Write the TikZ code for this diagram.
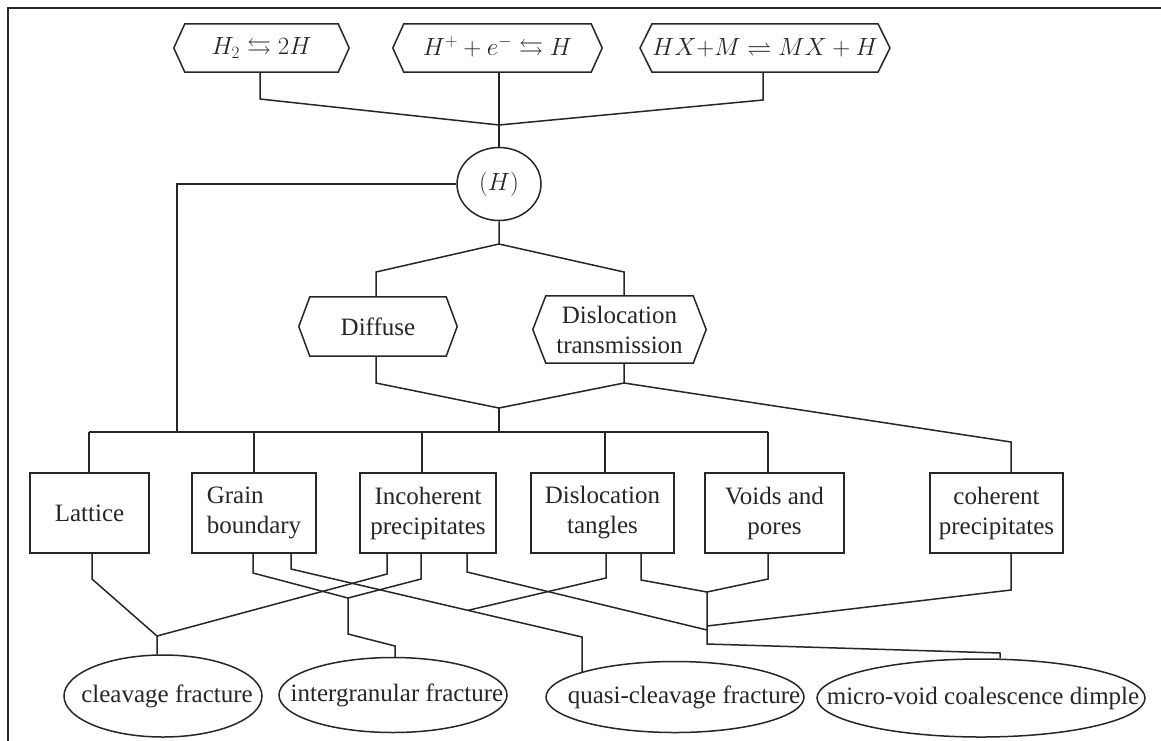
\documentclass[tikz,border=0pt]{standalone}
\usepackage{amssymb}
\usepackage{fontspec}
\setmainfont{Liberation Serif}
\usetikzlibrary{calc,shapes.geometric}

% hexagonal outline around a (borderless) rectangular node
\newcommand\hexframe[2]{%
  \draw[line] (#1.north west) -- (#1.north east) -- ($(#1.east)+(#2,0)$)
    -- (#1.south east) -- (#1.south west) -- ($(#1.west)-(#2,0)$) -- cycle;}

\begin{document}
\begin{tikzpicture}[x=1pt,y=-1pt,
  line/.style={draw=black!85, line width=1.5pt, line join=miter},
  txt/.style={font=\fontsize{25}{30}\selectfont, text=black!85},
  mth/.style={font=\fontsize{24}{28}\selectfont, text=black!85},
  hexbox/.style={draw=none, inner sep=0pt, minimum height=48pt},
  box/.style={draw=black!85, line width=1.5pt, rectangle, inner sep=0pt,
              minimum height=80pt, txt, align=center},
  oval/.style={draw=black!85, line width=1.5pt, ellipse, inner sep=0pt},
]

\useasboundingbox (0,0) rectangle (1161,740);
\fill[white] (0,0) rectangle (1161,740);
\draw[draw=black!85, line width=2pt] (8,760) -- (8,8) -- (1180,8);

% reactions producing hydrogen
\node[hexbox, mth, minimum width=153pt] (h1) at (261.5,48) {$H_2 \leftrightarrows 2H$};
\node[hexbox, mth, minimum width=187pt] (h2) at (497.5,48) {$H^+ + e^- \leftrightarrows H$};
\node[hexbox, mth, minimum width=214pt] (h3) at (765,48) {$HX{+}M \rightleftharpoons MX + H$};
\hexframe{h1}{11}
\hexframe{h2}{11}
\hexframe{h3}{12}

\node[oval, font=\fontsize{25}{30}\selectfont, text=black!85,
      minimum width=84pt, minimum height=73pt] (hc) at (499,184) {$(H)$};

\coordinate (k1) at (260,99);
\coordinate (k3) at (763,100);
\coordinate (jt) at (499,125);
\draw[line] (h1.south -| k1) -- (k1) -- (jt);
\draw[line] (h3.south -| k3) -- (k3) -- (jt);
\draw[line] (h2.south -| hc.north) -- (hc.north);

% transport routes
\node[hexbox, txt, minimum width=136pt, minimum height=59pt] (dif) at (378,326.5) {Diffuse};
\node[hexbox, txt, align=center, minimum width=147pt, minimum height=67pt] (dt) at (619.5,329.5) {Dislocation\\transmission};
\hexframe{dif}{11}
\hexframe{dt}{13}

\coordinate (jm) at (499,244);
\coordinate (kd) at (376,272);
\coordinate (kt) at (624,272);
\draw[line] (hc.south) -- (jm) -- (kd) -- (dif.north -| kd);
\draw[line] (jm) -- (kt) -- (dt.north -| kt);

\coordinate (kd2) at (376,383);
\coordinate (kt2) at (624,383);
\coordinate (jb) at (499,408);
\coordinate (bus) at (499,432);
\draw[line] (dif.south -| kd2) -- (kd2) -- (jb);
\draw[line] (dt.south -| kt2) -- (kt2) -- (jb);
\draw[line] (jb) -- (bus);

% trap sites
\node[box, minimum width=119pt] (lat) at (89.5,513) {Lattice};
\node[box, minimum width=124pt, align=left] (gb) at (254,513) {Grain\\boundary};
\node[box, minimum width=136pt] (inc) at (428,513) {Incoherent\\precipitates};
\node[box, minimum width=143pt] (dtg) at (602.5,513) {Dislocation\\tangles};
\node[box, minimum width=139pt] (vp) at (774.5,513) {Voids and\\pores};
\node[box, minimum width=133pt] (coh) at (996.5,513) {coherent\\precipitates};

\coordinate (busL) at (89,432);
\coordinate (busR) at (768,432);
\coordinate (d2) at (254,432);
\coordinate (d3) at (422,432);
\coordinate (d4) at (605,432);
\draw[line] (busL) -- (busR);
\draw[line] (busL) -- (lat.north -| busL);
\draw[line] (d2) -- (gb.north -| d2);
\draw[line] (d3) -- (inc.north -| d3);
\draw[line] (d4) -- (dtg.north -| d4);
\draw[line] (busR) -- (vp.north -| busR);

\coordinate (lb) at (177,184);
\coordinate (lbb) at (177,432);
\draw[line] (hc.west) -- (lb);
\draw[line, line width=2.6pt, line cap=rect] (lb) -- (lbb);

\coordinate (kc) at (1011,442);
\draw[line] (kt2) -- (kc) -- (coh.north -| kc);

% fracture modes
\node[oval, minimum width=198pt, minimum height=82pt] (cl) at (163,696) {};
\node[oval, minimum width=228pt, minimum height=75pt] (ig) at (393,695) {};
\node[oval, minimum width=258pt, minimum height=71pt] (qc) at (675,697) {};
\node[oval, minimum width=328pt, minimum height=78pt] (mv) at (981,698) {};
\node[txt] (clt) at (167,696) {cleavage fracture};
\node[txt] (igt) at (397,695) {intergranular fracture};
\node[txt] (qct) at (684,697) {quasi-cleavage fracture};
\node[txt] (mvt) at (983,698) {micro-void coalescence dimple};

\coordinate (a1) at (92,579);
\coordinate (a2) at (157,636);
\coordinate (g1) at (253,573);
\coordinate (g2) at (291,569);
\coordinate (i1) at (387,574);
\coordinate (i2) at (421,579);
\coordinate (i3) at (467,572);
\coordinate (t1) at (606,578);
\coordinate (t2) at (641,580);
\coordinate (v1) at (768,579);
\coordinate (c1) at (1011,590);
\coordinate (jg) at (348,598);
\coordinate (jg2) at (348,634);
\coordinate (jg3) at (395,646);
\coordinate (jq) at (582,637);
\coordinate (xq) at ($(g2)!0.608!(jq)$);
\coordinate (jv) at (707,592);
\coordinate (jv2) at (707,626);
\coordinate (jv3) at (707,630);
\coordinate (jv4) at (707,644);
\coordinate (jm2) at (1000,653);

\draw[line] (lat.south -| a1) -- (a1) -- (a2) -- (cl.north -| a2);
\draw[line] (inc.south -| i1) -- (i1) -- (a2);
\draw[line] (gb.south -| g1) -- (g1) -- (jg);
\draw[line] (inc.south -| i2) -- (i2) -- (jg);
\draw[line] (jg) -- (jg2) -- (jg3) -- (ig.north -| jg3);
\draw[line] (gb.south -| g2) -- (g2) -- (jq) -- (jq |- qc.165);
\draw[line] (dtg.south -| t1) -- (t1) -- (xq);
\draw[line] (inc.south -| i3) -- (i3) -- (jv3);
\draw[line] (dtg.south -| t2) -- (t2) -- (jv);
\draw[line] (vp.south -| v1) -- (v1) -- (jv);
\draw[line] (coh.south -| c1) -- (c1) -- (jv2);
\draw[line] (jv) -- (jv4) -- (jm2) -- (mv.north -| jm2);

\end{tikzpicture}
\end{document}
